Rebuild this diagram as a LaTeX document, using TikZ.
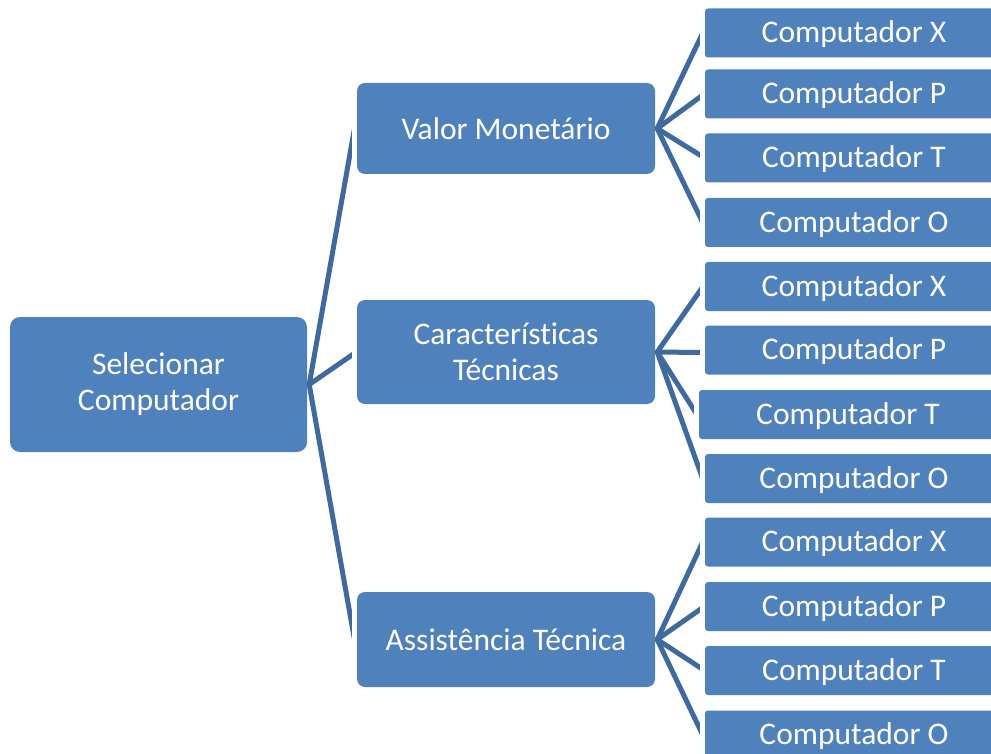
\documentclass[tikz,border=0pt]{standalone}
\usepackage{fontspec}
\setmainfont{Carlito}[Ligatures=NoCommon]
\usetikzlibrary{calc}
\definecolor{boxblue}{HTML}{4F81BD}
\definecolor{linkblue}{HTML}{3F6A9E}
\begin{document}
\begin{tikzpicture}[x=1pt,y=-1pt,
  box/.style={fill=boxblue, text=white, inner sep=0pt, align=center,
    font=\fontsize{31.5}{36}\selectfont},
  rootbox/.style={box, rounded corners=10pt, minimum width=297pt, minimum height=135pt},
  midbox/.style={box, rounded corners=8pt, minimum width=298pt},
  leafbox/.style={box, rounded corners=3pt, minimum width=298pt, minimum height=49pt,
    text depth=2pt},
  conn/.style={draw=linkblue, line width=5pt, line cap=round}]
\useasboundingbox (0,0) rectangle (991,754);
\clip (0,0) rectangle (991,754);

% root and criteria
\node[rootbox] (root) at (158.5,384.5) {Selecionar\\Computador};
\node[midbox, minimum height=91pt]  (vm) at (506,128.5) {Valor Monetário};
\node[midbox, minimum height=104pt] (ct) at (506,352)   {Características\\Técnicas};
\node[midbox, minimum height=95pt]  (at) at (506,639.5) {Assistência Técnica};

% alternatives per criterion
\node[leafbox] (vmx) at (854,33)    {Computador X};
\node[leafbox] (vmp) at (854,94)    {Computador P};
\node[leafbox] (vmt) at (854,158)   {Computador T};
\node[leafbox] (vmo) at (854,222.5) {Computador O};

\node[leafbox] (ctx) at (854,286.5) {Computador X};
\node[leafbox] (ctp) at (854,350)   {Computador P};
\node[leafbox] (ctt) at (848,414.5) {Computador T};
\node[leafbox] (cto) at (854,478.5) {Computador O};

\node[leafbox] (atx) at (854,542)   {Computador X};
\node[leafbox] (atp) at (854,606.5) {Computador P};
\node[leafbox] (att) at (854,670.5) {Computador T};
\node[leafbox] (ato) at (854,735)   {Computador O};

% connectors: each is cut vertically 5pt before its child box, with the
% outer edge of the stroke meeting the cut at the child's mid height
\foreach \p/\c in {root/vm, root/ct, root/at,
                   vm/vmx, vm/vmp, vm/vmt, vm/vmo,
                   ct/ctx, ct/ctp, ct/ctt, ct/cto,
                   at/atx, at/atp, at/att, at/ato}{
  \begin{scope}
    \coordinate (js) at ($(\p.east)+(2,0)$);
    \coordinate (je) at ($(\c.west)+(-5,0)$);
    \clip (\p.east |- 0,0) rectangle (je |- 0,754);
    \draw[conn] let \p1=(js), \p2=(je),
                    \n1={veclen(\x2-\x1,\y2-\y1)},
                    \n2={2.5*\n1/(\x2-\x1)},
                    \n3={sign(\y2-\y1)*\n2}
                in (\p1) -- ($(\p1)!1.2!(\x2,{\y2-\n3})$);
  \end{scope}
}
\end{tikzpicture}
\end{document}
